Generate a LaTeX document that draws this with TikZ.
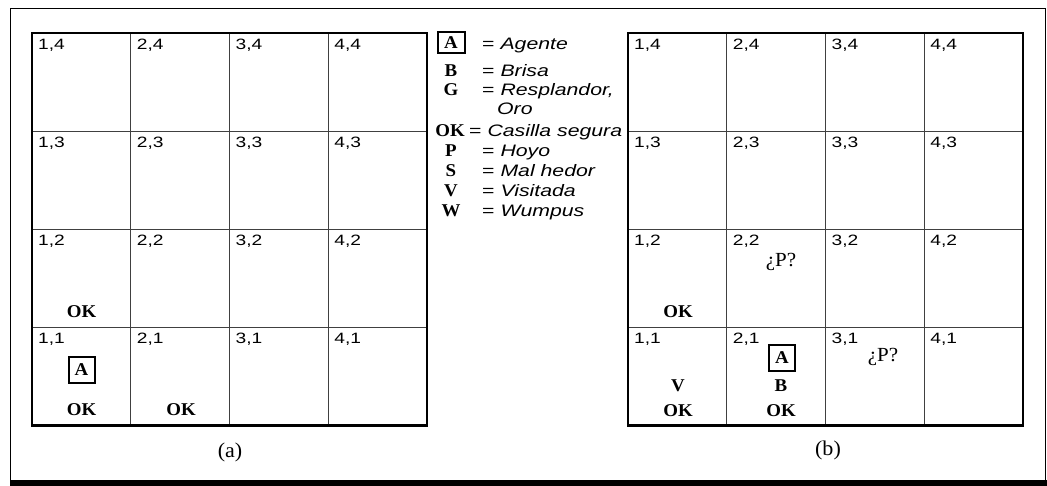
\documentclass[tikz,border=0pt]{standalone}
\usepackage{fontspec}
\setmainfont{Liberation Sans}[FakeStretch=1.28]
\newfontfamily\rmface{Liberation Serif}[FakeStretch=1.05]
\tikzset{
  cellline/.style={draw=black!75,line width=0.8pt},
  gridframe/.style={draw,line width=2.6pt},
  cellnum/.style={anchor=north west,inner sep=0pt,font=\fontsize{15}{17}\selectfont},
  tag/.style={inner sep=0pt,font=\rmface\bfseries\fontsize{18}{20}\selectfont},
  agentbox/.style={tag,draw,line width=2pt,minimum width=26,minimum height=26},
  guess/.style={inner sep=0pt,font=\rmface\fontsize{20}{22}\selectfont},
  legtext/.style={anchor=base west,inner sep=0pt,font=\itshape\fontsize{16.6}{19}\selectfont},
  sublabel/.style={font=\rmface\fontsize{21}{23}\selectfont}
}
\begin{document}
\begin{tikzpicture}[x=1pt,y=-1pt]
  \useasboundingbox (0,0) rectangle (1047,486);
  % outer frame
  \draw[line width=0.9pt] (10,480) -- (10,8) -- (1045,8) -- (1045,480);
  \fill (10,479.5) rectangle (1047,486);
  % the two 4x4 grids
  \foreach \gx/\nm in {32/a,628/b} {
    \foreach \i in {1,2,3} {
      \draw[cellline] ({\gx+\i*98.75},33) -- ({\gx+\i*98.75},425.4);
      \draw[cellline] (\gx,{33+\i*98.1}) -- ({\gx+395},{33+\i*98.1});
    }
    \draw[gridframe] (\gx,33) rectangle ({\gx+395},425.4);
    \foreach \c in {1,...,4}
      \foreach \r in {1,...,4}
        \node[cellnum] (\nm\c\r) at ({\gx+(\c-1)*98.75+6},{33+(4-\r)*98.1+6}) {\c,\r};
  }
  % (a)
  \node[agentbox] (agentA) at (81.5,370) {A};
  \node[tag] (okA11) at (81.5,410) {OK};
  \node[tag] (okA21) at (181,410) {OK};
  \node[tag] (okA12) at (81.5,312) {OK};
  \node[sublabel] (capA) at (230,452) {(a)};
  % (b)
  \node[tag] (okB12) at (678,312) {OK};
  \node[guess] (pitB22) at (781,262) {¿P?};
  \node[tag] (visB11) at (678,386) {V};
  \node[tag] (okB11) at (678,411) {OK};
  \node[agentbox] (agentB) at (782,358) {A};
  \node[tag] (brzB21) at (781,386) {B};
  \node[tag] (okB21) at (781,411) {OK};
  \node[guess] (pitB31) at (883,357) {¿P?};
  \node[sublabel] (capB) at (828,450) {(b)};
  % legend
  \node[agentbox,minimum height=21,minimum width=27] (keyA) at (451,43) {A};
  \foreach \y/\k/\t in {77/B/Brisa,96/G/{Resplandor,},157/P/Hoyo,177/S/Mal hedor,197/V/Visitada,217/W/Wumpus} {
    \node[tag,anchor=base] (key\k) at (451,\y) {\k};
    \node[legtext] (txt\k) at (482,\y) {{\upshape=} \t};
  }
  \node[legtext] (txtA) at (482,50) {{\upshape=} Agente};
  \node[legtext] (txtOro) at (497,115) {Oro};
  \node[tag,anchor=base] (keyOK) at (450,137) {OK};
  \node[legtext] (txtOK) at (469,137) {{\upshape=} Casilla segura};
\end{tikzpicture}
\end{document}
